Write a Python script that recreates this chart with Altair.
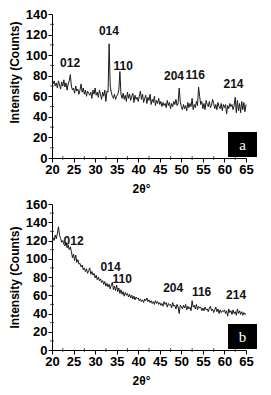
import altair as alt
import pandas as pd
import numpy as np

# 2-theta grid (degrees), 0.25 step from 20 to 65
two_theta = [round(20 + 0.25 * i, 2) for i in range(181)]

intensity_a = [
    74, 72, 75, 70, 73, 68, 75, 71, 67, 74, 70, 76, 69, 73, 66, 72, 75, 81, 70, 66,
    68, 63, 70, 65, 67, 62, 66, 72, 64, 68, 62, 66, 60, 65, 63, 61, 64, 58, 66, 62,
    68, 61, 64, 59, 66, 62, 57, 64, 60, 66, 55, 65, 64, 111, 70, 64, 60, 58, 62, 57,
    60, 62, 66, 84, 62, 58, 63, 57, 61, 55, 64, 58, 62, 56, 60, 63, 54, 61, 57, 59,
    55, 60, 65, 57, 62, 54, 58, 61, 53, 59, 56, 62, 52, 57, 54, 60, 51, 56, 53, 58,
    52, 55, 50, 54, 51, 53, 49, 56, 51, 54, 48, 53, 50, 55, 52, 57, 51, 53, 68, 55,
    50, 47, 52, 48, 51, 46, 54, 49, 53, 50, 58, 47, 52, 49, 55, 51, 69, 60, 52, 55,
    48, 53, 47, 56, 52, 50, 55, 49, 51, 57, 53, 48, 52, 47, 54, 50, 48, 53, 46, 52,
    49, 52, 43, 51, 48, 53, 50, 52, 47, 51, 59, 44, 56, 46, 53, 44, 55, 47, 54, 45,
    52,
]

intensity_b = [
    118, 123, 120, 126, 122, 128, 135, 126, 122, 118, 120, 116, 114, 118, 112, 115, 110, 113, 108, 101,
    105, 98, 104, 96, 99, 94, 95, 91, 93, 88, 90, 86, 89, 84, 87, 90, 83, 86, 82, 84,
    79, 82, 77, 80, 76, 78, 74, 76, 72, 75, 70, 73, 69, 72, 67, 71, 74, 66, 70, 65,
    71, 64, 68, 62, 66, 61, 64, 59, 63, 60, 62, 58, 61, 57, 60, 56, 59, 55, 58, 56,
    57, 54, 56, 53, 55, 52, 56, 54, 57, 53, 55, 52, 54, 51, 53, 50, 54, 51, 53, 50,
    52, 49, 51, 48, 53, 50, 52, 47, 51, 49, 50, 46, 52, 48, 49, 45, 50, 47, 40, 49,
    48, 45, 49, 46, 50, 44, 48, 45, 47, 43, 54, 47, 49, 45, 50, 44, 48, 46, 47, 43,
    46, 43, 47, 44, 45, 42, 46, 48, 43, 45, 41, 44, 47, 42, 45, 40, 44, 41, 43, 42,
    44, 40, 43, 37, 45, 41, 43, 39, 44, 40, 42, 38, 45, 40, 43, 39, 42, 38, 41, 39,
    40,
]

peak_labels = ["012", "014", "110", "204", "116", "214"]
label_x_a = [24.2, 33.2, 36.5, 48.3, 53.2, 62.1]
label_y_a = [92, 123, 89, 80, 81, 72]
label_x_b = [25.0, 33.6, 36.3, 48.1, 54.7, 62.7]
label_y_b = [119, 91, 78, 68, 64, 60]

x_major = [20, 25, 30, 35, 40, 45, 50, 55, 60, 65]
x_minor = [22.5, 27.5, 32.5, 37.5, 42.5, 47.5, 52.5, 57.5, 62.5]

FONT = "Liberation Sans"


def panel(values, lx, ly, ymax, w, h, badge, title_y):
    df = pd.DataFrame({"t": two_theta, "I": values})
    lab = pd.DataFrame({"label": peak_labels, "x": lx, "y": ly})
    xs = alt.Scale(domain=[20, 65], nice=False, zero=False)
    ys = alt.Scale(domain=[0, ymax], nice=False)
    y_major = list(range(0, ymax + 1, 20))
    y_minor = list(range(10, ymax, 20))
    xax = alt.Axis(values=x_major, titleX=w / 2 - 8, titlePadding=7,
                   labelOverlap=False, labelFlush=False)
    yax = alt.Axis(values=y_major, titleY=title_y, titlePadding=4,
                   labelOverlap=False, labelFlush=False)
    XT, YT = "2θ°", "Intensity (Counts)"
    line = alt.Chart(df).mark_line(color="#1a1a1a", strokeWidth=1).encode(
        x=alt.X("t:Q", scale=xs, title=XT, axis=xax),
        y=alt.Y("I:Q", scale=ys, title=YT, axis=yax),
    )
    text = alt.Chart(lab).mark_text(font=FONT, fontSize=12, fontWeight="bold", color="#111").encode(
        x=alt.X("x:Q", scale=xs, title=XT, axis=xax),
        y=alt.Y("y:Q", scale=ys, title=YT, axis=yax),
        text="label:N",
    )
    ymin_df = pd.DataFrame({"v": y_minor})
    xmin_df = pd.DataFrame({"v": x_minor})
    yminor = alt.Chart(ymin_df).mark_tick(color="black", thickness=1, size=4, orient="horizontal").encode(
        y=alt.Y("v:Q", scale=ys, title=YT, axis=yax), x=alt.value(0)
    )
    xminor = alt.Chart(xmin_df).mark_tick(color="black", thickness=1, size=4, orient="vertical").encode(
        x=alt.X("v:Q", scale=xs, title=XT, axis=xax), y=alt.value(h)
    )
    one = pd.DataFrame({"k": [badge]})
    bx = w - 18
    rect = alt.Chart(one).mark_rect(color="black").encode(
        x=alt.value(bx), x2=alt.value(bx + 29), y=alt.value(h - 26), y2=alt.value(h - 1)
    )
    btxt = alt.Chart(one).mark_text(font="Liberation Serif", fontSize=15, color="white").encode(
        x=alt.value(bx + 14.5), y=alt.value(h - 13.5), text="k:N"
    )
    return alt.layer(line, text, yminor, xminor, rect, btxt).properties(width=w, height=h)


pa = panel(intensity_a, label_x_a, label_y_a, 140, 194, 144, "a", 58)
pb = panel(intensity_b, label_x_b, label_y_b, 160, 194, 146, "b", 73)

chart = alt.vconcat(pa, pb, spacing=4).properties(
    padding={"left": 0, "top": 0, "right": 0, "bottom": 0}
).configure_view(stroke=None).configure_axis(
    grid=False,
    domainColor="black",
    tickColor="black",
    tickSize=4,
    labelFont=FONT,
    labelFontSize=13,
    labelFontWeight="bold",
    labelColor="black",
    labelOverlap=False,
    titleFont=FONT,
    titleFontSize=12,
    titleFontWeight="bold",
    titleColor="black",
    labelPadding=1,
)

chart.save("out.html", embed_options={"renderer": "svg", "actions": False})
